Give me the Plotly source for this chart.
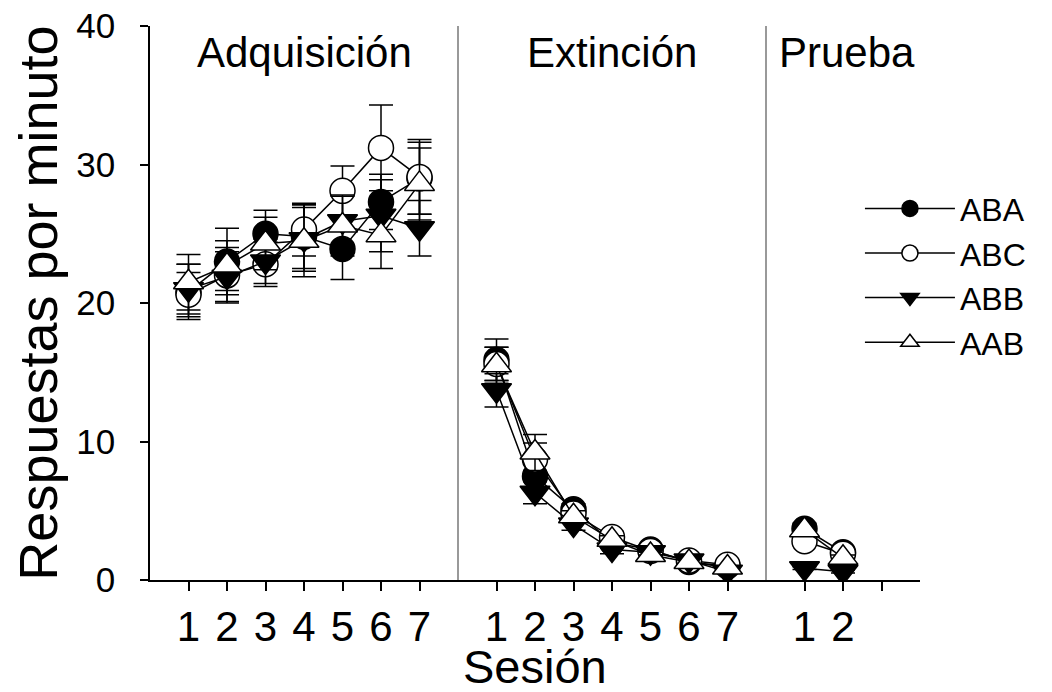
import plotly.graph_objects as go

# ---------------- data ----------------
series_names = ["ABA", "ABC", "ABB", "AAB"]

# session positions on the continuous axis (acquisition 1-7, extinction 1-7, test 1-2)
acq_x = [1, 2, 3, 4, 5, 6, 7]
ext_x = [9, 10, 11, 12, 13, 14, 15]
test_x = [17, 18]

aba_acq = [20.8, 23.0, 25.0, 24.8, 23.9, 27.3, 29.0]
aba_ext = [15.9, 7.5, 5.1, 2.7, 2.2, 1.3, 1.0]
aba_test = [3.7, 2.0]
aba_err_acq = [2.0, 2.4, 1.7, 2.3, 2.2, 2.0, 2.6]
aba_err_ext = [1.5, 1.0, 0.4, 0.3, 0.3, 0.2, 0.2]
aba_err_test = [0.4, 0.3]

abc_acq = [20.6, 22.0, 22.8, 25.3, 28.1, 31.2, 29.1]
abc_ext = [15.6, 8.7, 4.8, 3.1, 2.1, 1.4, 1.1]
abc_test = [2.8, 1.9]
abc_err_acq = [1.6, 2.0, 1.6, 1.9, 1.8, 3.1, 2.7]
abc_err_ext = [1.2, 1.2, 0.4, 0.4, 0.3, 0.2, 0.2]
abc_err_test = [0.3, 0.3]

abb_acq = [21.0, 21.9, 23.0, 24.6, 25.9, 26.3, 25.4]
abb_ext = [13.7, 6.3, 4.0, 2.2, 2.0, 1.4, 0.6]
abb_test = [0.85, 0.6]
abb_err_acq = [1.8, 1.8, 1.6, 2.3, 1.8, 2.6, 2.0]
abb_err_ext = [1.2, 0.8, 0.4, 0.3, 0.2, 0.2, 0.1]
abb_err_test = [0.1, 0.1]

aab_acq = [21.5, 22.7, 24.3, 24.5, 25.6, 24.9, 28.6]
aab_ext = [15.5, 9.2, 4.6, 2.9, 1.8, 1.3, 0.9]
aab_test = [3.6, 1.6]
aab_err_acq = [2.0, 1.8, 1.9, 2.6, 2.2, 2.4, 2.6]
aab_err_ext = [1.3, 1.3, 0.4, 0.3, 0.2, 0.2, 0.1]
aab_err_test = [0.3, 0.2]

tick_vals = [1, 2, 3, 4, 5, 6, 7, 9, 10, 11, 12, 13, 14, 15, 17, 18, 19]
tick_text = ["1", "2", "3", "4", "5", "6", "7",
             "1", "2", "3", "4", "5", "6", "7",
             "1", "2", ""]

phase_labels = ["Adquisición", "Extinción", "Prueba"]
phase_label_x = [4, 12, 18.1]
phase_label_y = 38.1
dividers = [8, 16]

# ---------------- styles ----------------
FONT = "Arial, Liberation Sans, sans-serif"
styles = {
    "ABA": dict(symbol="circle", fill="black", size=25),
    "ABC": dict(symbol="circle", fill="white", size=25),
    "ABB": dict(symbol="triangle-down", fill="black", size=26),
    "AAB": dict(symbol="triangle-up", fill="white", size=26),
}

data = {
    "ABA": (aba_acq, aba_ext, aba_test, aba_err_acq, aba_err_ext, aba_err_test),
    "ABC": (abc_acq, abc_ext, abc_test, abc_err_acq, abc_err_ext, abc_err_test),
    "ABB": (abb_acq, abb_ext, abb_test, abb_err_acq, abb_err_ext, abb_err_test),
    "AAB": (aab_acq, aab_ext, aab_test, aab_err_acq, aab_err_ext, aab_err_test),
}

fig = go.Figure()

for name in series_names:
    a, e, t, ea, ee, et = data[name]
    xs = acq_x + [None] + ext_x + [None] + test_x
    ys = a + [None] + e + [None] + t
    errs = ea + [None] + ee + [None] + et
    st = styles[name]
    fig.add_trace(go.Scatter(
        x=xs, y=ys, name=name, mode="lines+markers",
        connectgaps=False,
        line=dict(color="black", width=1.5),
        marker=dict(symbol=st["symbol"], size=st["size"], color=st["fill"],
                    line=dict(color="black", width=1.5)),
        error_y=dict(type="data", array=errs, visible=True,
                     color="black", thickness=1.5, width=12),
    ))

for d in dividers:
    fig.add_shape(type="line", xref="x", yref="y", x0=d, x1=d, y0=0, y1=40,
                  line=dict(color="#555555", width=1.2))

for lab, lx in zip(phase_labels, phase_label_x):
    fig.add_annotation(x=lx, y=phase_label_y, xref="x", yref="y", text=lab,
                       showarrow=False, font=dict(family=FONT, size=42, color="black"))

# x-axis title placed below the tick labels
fig.add_annotation(x=0.5, y=0, xref="paper", yref="paper", text="Sesión",
                   showarrow=False, yanchor="top", yshift=-58,
                   font=dict(family=FONT, size=47, color="black"))

fig.update_layout(
    width=1044, height=684,
    margin=dict(l=142, r=132, t=18, b=112, autoexpand=False),
    paper_bgcolor="white", plot_bgcolor="white",
    font=dict(family=FONT, color="black"),
    showlegend=True,
    legend=dict(x=0.922, y=0.72, xanchor="left", yanchor="top",
                font=dict(family=FONT, size=32, color="black"),
                bgcolor="rgba(0,0,0,0)", itemwidth=90, tracegroupgap=0),
)

fig.update_xaxes(
    range=[0, 20], showgrid=False, zeroline=False, automargin=False,
    showline=True, linecolor="black", linewidth=1.5,
    ticks="outside", ticklen=9, tickwidth=1.5, tickcolor="black",
    tickmode="array", tickvals=tick_vals, ticktext=tick_text,
    tickfont=dict(family=FONT, size=42, color="black"),
    ticklabelstandoff=0, ticklabeloverflow="allow",
)
fig.update_yaxes(
    range=[0, 40], showgrid=False, zeroline=False, automargin=False,
    showline=True, linecolor="black", linewidth=1.5,
    ticks="outside", ticklen=8, tickwidth=1.5, tickcolor="black",
    tickvals=[0, 10, 20, 30, 40],
    tickfont=dict(family=FONT, size=35, color="black"),
    ticklabelstandoff=18, ticklabeloverflow="allow",
    title=dict(text="Respuestas por minuto", font=dict(family=FONT, size=54, color="black"), standoff=14),
)

fig.write_html("out.html")
